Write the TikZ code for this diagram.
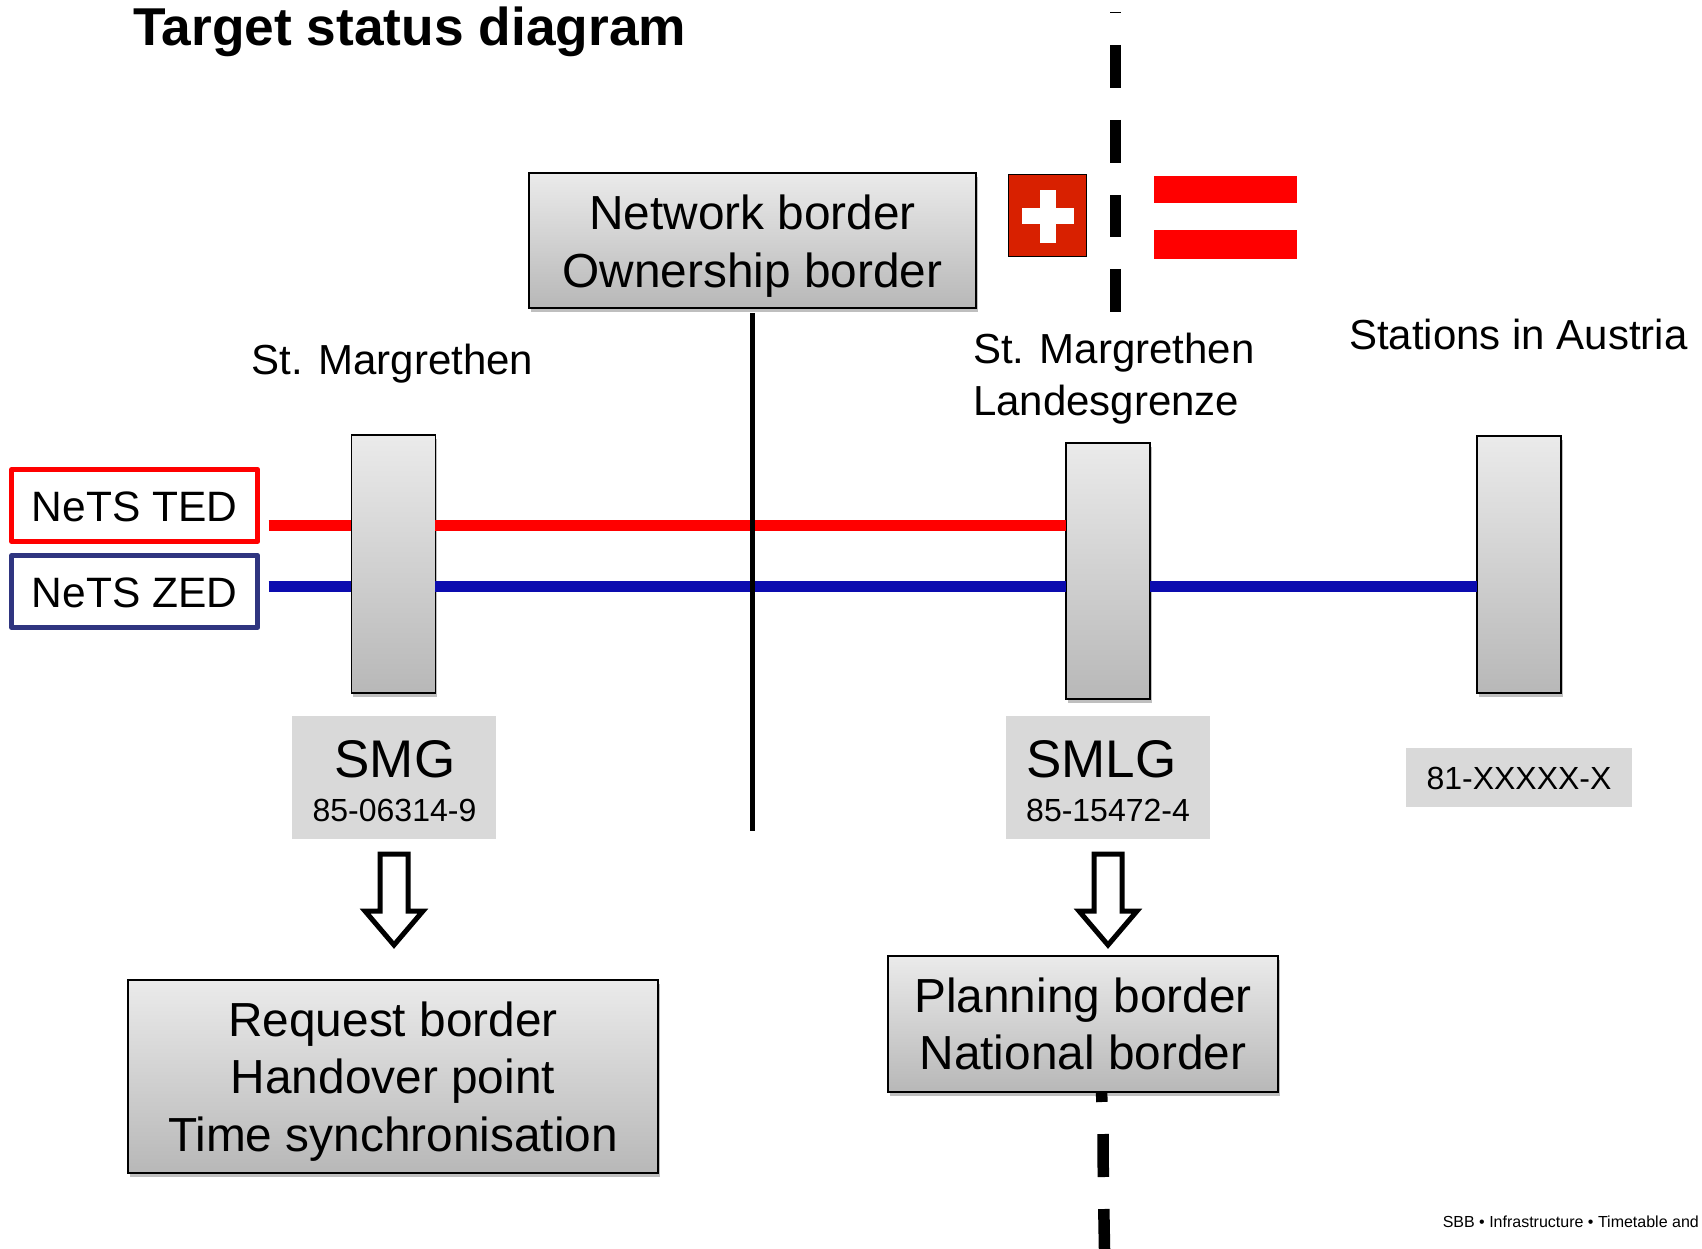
\documentclass[tikz,border=0pt]{standalone}
\usepackage{fontspec}
\setmainfont{Liberation Sans}
\usetikzlibrary{shadows}
\definecolor{zedframe}{HTML}{2F3580}
\definecolor{zedline}{HTML}{0C0CAF}
\definecolor{chred}{HTML}{D82000}
\definecolor{labelgrey}{HTML}{D9D9D9}
\newcommand{\fsz}[2]{\fontsize{#1}{#2}\selectfont}
\newcommand{\lift}[1]{\rule{0pt}{#1pt}}
\tikzset{
  gradbox/.style={draw=black,line width=1.6pt,top color=boxtop,bottom color=boxbot,inner sep=0pt,outer sep=0pt,
    drop shadow={shadow xshift=1.5pt,shadow yshift=-4pt,opacity=.25,fill=black}},
  bigbox/.style={gradbox,align=center,font=\fsz{47.8}{57.5}},
  station/.style={gradbox,minimum width=84pt},
  codebox/.style={fill=labelgrey,inner sep=0pt,outer sep=0pt},
  netsbox/.style={draw=#1,line width=5pt,line join=round,fill=white,inner sep=0pt,outer sep=0pt,minimum width=246pt,minimum height=72pt,font=\fsz{42.5}{50}},
  plain/.style={inner sep=0pt,outer sep=0pt,align=left,font=\fsz{42}{52}},
  track/.style={line width=11pt},
  redtrack/.style={track,draw=red},
  bluetrack/.style={track,draw=zedline},
  borderdash/.style={line width=11.5pt,draw=black},
  hollowarrow/.style={draw=black,line width=5pt,fill=white,miter limit=10},
}
\colorlet{boxtop}{black!8}
\colorlet{boxbot}{black!28}
\begin{document}
\begin{tikzpicture}[x=1pt,y=-1pt]
\useasboundingbox (0,0) rectangle (1702,1249);
% border line, upper part
\coordinate (ua) at (1115.5,11.8); \coordinate (ub) at (1115.5,13.4);
\draw[borderdash] (ua) -- (ub);
\foreach \n/\t/\b in {1/45/88,2/120/163,3/195/237.5,4/269/312}{
  \coordinate (d\n a) at (1115.5,\t); \coordinate (d\n b) at (1115.5,\b);
  \draw[borderdash] (d\n a) -- (d\n b);
}
% title
\node[anchor=base west,inner sep=0pt,font=\bfseries\fsz{53.3}{60}] (title) at (133,46) {Target status diagram};
% flags
\node[draw=black,line width=1.6pt,fill=chred,minimum width=78pt,minimum height=82pt,inner sep=0pt,outer sep=0pt] (chflag) at (1047.5,215.5) {};
\fill[white] (1040,190) rectangle (1055.7,243);
\fill[white] (1021.7,208) rectangle (1073.7,224);
\node[fill=red,minimum width=143pt,minimum height=82.7pt,inner sep=0pt,outer sep=0pt] (atflag) at (1225.5,217.3) {};
\fill[white] (1154,203) rectangle (1297,229.7);
% vertical network border
\node[bigbox,minimum width=447pt,minimum height=135pt] (network) at (752.5,240.5) {\lift{46}Network border\\Ownership border};
\coordinate (netend) at (752.5,831);
% stations
\node[station,minimum height=258pt] (smg) at (393.3,564) {};
\node[station,minimum height=256pt] (smlg) at (1108,571) {};
\node[station,minimum height=257pt] (aut) at (1519,564.5) {};
% NeTS
\node[netsbox=red] (ted) at (134.7,505.5) {\lift{32}NeTS TED};
\node[netsbox=zedframe] (zed) at (134.7,591.5) {\lift{33}NeTS ZED};
% tracks
\coordinate (redstart) at (268.7,525.5);
\coordinate (bluestart) at (268.7,586);
\draw[redtrack] (redstart) -- (smg.west |- redstart);
\draw[redtrack] (smg.east |- redstart) -- (smlg.west |- redstart);
\draw[bluetrack] (bluestart) -- (smg.west |- bluestart);
\draw[bluetrack] (smg.east |- bluestart) -- (smlg.west |- bluestart);
\draw[bluetrack] (smlg.east |- bluestart) -- (aut.west |- bluestart);
\draw[line width=5pt] ([yshift=-5pt]network.south) -- (netend);
% station names
\node[plain,anchor=base west] (nsmg) at (251.5,374.5) {St. Margrethen};
\node[plain,anchor=base west] (nsmlg) at (973,415) {St. Margrethen\\Landesgrenze};
\node[plain,anchor=base west] (naut) at (1349,349.5) {Stations in Austria};
% code boxes
\node[codebox,minimum width=204pt,minimum height=123pt] (csmg) at (394,777.5) {};
\node[anchor=base,inner sep=0pt,font=\fsz{53}{60}] (tsmg) at (395,777.5) {SMG};
\node[anchor=base,inner sep=0pt,font=\fsz{32}{40}] (nrsmg) at (394.5,821.5) {85-06314-9};
\node[codebox,minimum width=204pt,minimum height=123pt] (csmlg) at (1108,777.5) {};
\node[anchor=base west,inner sep=0pt,font=\fsz{53}{60}] (tsmlg) at (1026,777.5) {SMLG};
\node[anchor=base west,inner sep=0pt,font=\fsz{32}{40}] (nrsmlg) at (1026,821.5) {85-15472-4};
\node[codebox,minimum width=226pt,minimum height=59pt,font=\fsz{32}{40}] (caut) at (1519,777.5) {\lift{25}81-XXXXX-X};
% hollow arrows
\foreach \nm/\c in {arl/394,arr/1108}{
  \draw[hollowarrow] (\c-14,854) -- (\c+14,854) -- (\c+14,911) -- (\c+29,911) -- (\c,945) -- (\c-29,911) -- (\c-14,911) -- cycle;
}
% bottom boxes
\coordinate (la) at (1101.5,1092); \coordinate (lb) at (1102,1102);
\draw[borderdash] (la) -- (lb);
\coordinate (lc) at (1103,1134); \coordinate (ld) at (1103.3,1177);
\draw[borderdash] (lc) -- (ld);
\coordinate (le) at (1103.8,1209); \coordinate (lf) at (1104.5,1249);
\draw[borderdash] (le) -- (lf);
\node[bigbox,minimum width=530pt,minimum height=193pt] (request) at (393,1076.5) {\lift{44}Request border\\Handover point\\Time synchronisation};
\node[bigbox,minimum width=390pt,minimum height=136pt] (planning) at (1083,1024) {Planning border\\National border};
% footer
\node[anchor=base east,inner sep=0pt,font=\fsz{16}{20}] (footer) at (1699,1227) {SBB • Infrastructure • Timetable and};
\end{tikzpicture}
\end{document}
